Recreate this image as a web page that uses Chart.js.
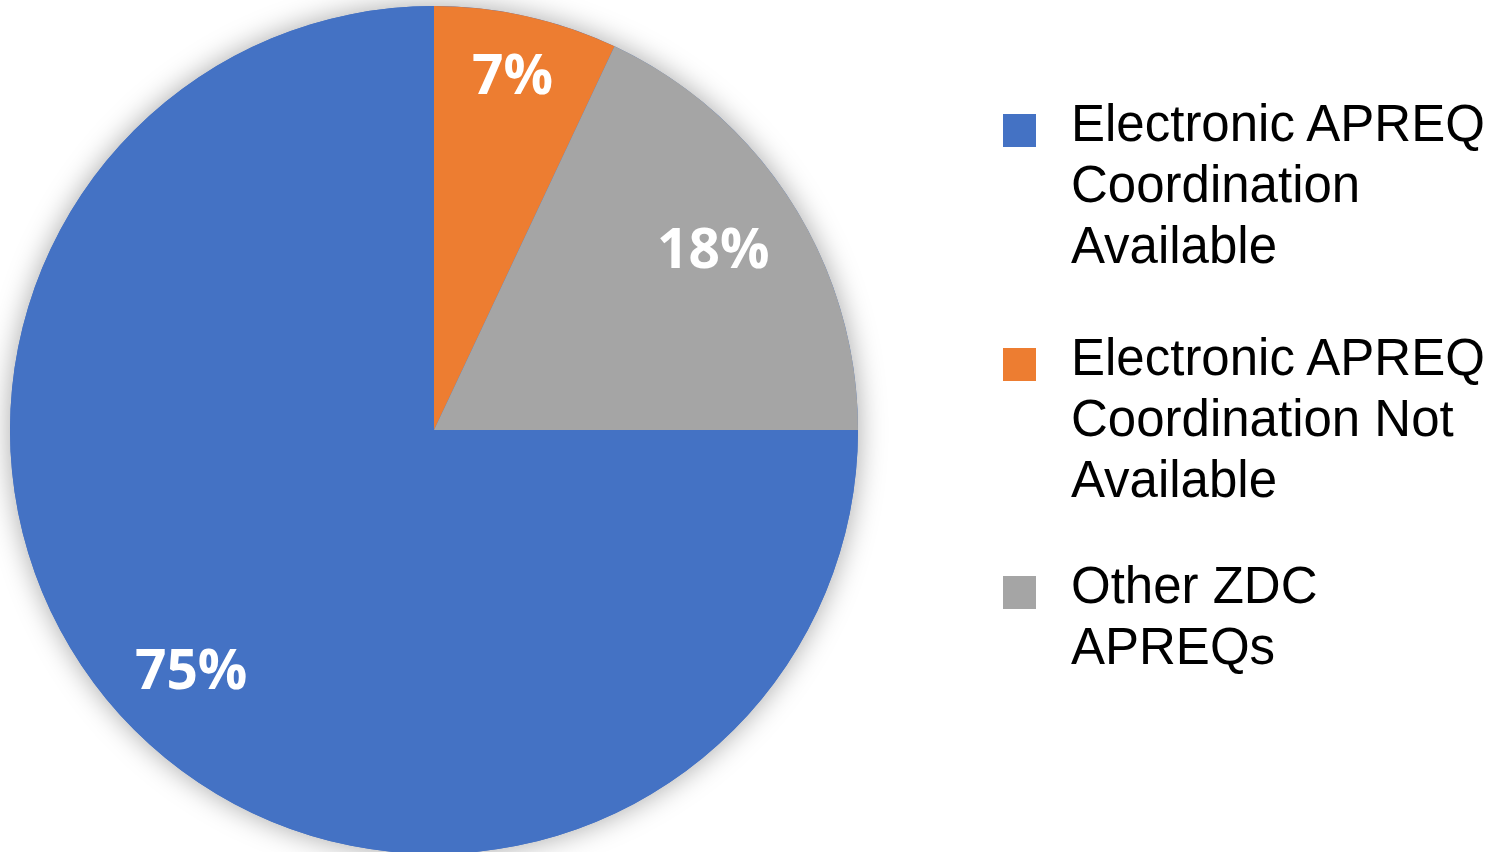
<!DOCTYPE html>
<html>
<head>
<meta charset="utf-8">
<script src="https://cdn.jsdelivr.net/npm/chart.js@4"></script>
<style>
  html, body { margin: 0; padding: 0; background: #fff; overflow: hidden; }
  body { width: 1492px; height: 852px; position: relative; }
  #pie-wrap { position: absolute; left: 0; top: 0; width: 910px; height: 900px; }
  #legend {
    position: absolute; left: 1003px; top: 93px;
    font-family: "Liberation Sans", Arial, sans-serif; font-size: 51px; line-height: 61px; color: #000;
  }
  .item { position: relative; padding-left: 68px; margin-bottom: 51px; white-space: nowrap; }
  .item:nth-child(2) { margin-bottom: 45px; }
  .item .box { position: absolute; left: 0; top: 21px; width: 33px; height: 33px; }
</style>
</head>
<body>
<div id="pie-wrap"><canvas id="pie"></canvas></div>
<div id="legend"></div>

<script>
const categories = [
  ["Electronic APREQ", "Coordination", "Available"],
  ["Electronic APREQ", "Coordination Not", "Available"],
  ["Other ZDC", "APREQs"],
];
const shares = [75, 7, 18];
const colors = ["#4472C4", "#ED7D31", "#A5A5A5"];

// how far out along each slice the percentage sits, as a fraction of the radius
const labelReach = [0.81, 0.85, 0.78];

// legend
const legend = document.getElementById("legend");
categories.forEach((lines, i) => {
  const item = document.createElement("div");
  item.className = "item";
  const box = document.createElement("span");
  box.className = "box";
  box.style.background = colors[i];
  item.appendChild(box);
  lines.forEach((line) => {
    const row = document.createElement("div");
    row.textContent = line;
    item.appendChild(row);
  });
  legend.appendChild(item);
});

// soft drop shadow behind the whole pie
const pieShadow = {
  id: "pieShadow",
  beforeDatasetsDraw(chart) {
    const arc = chart.getDatasetMeta(0).data[0];
    if (!arc) return;
    const ctx = chart.ctx;
    ctx.save();
    ctx.shadowColor = "rgba(0, 0, 0, 0.35)";
    ctx.shadowBlur = 28;
    ctx.fillStyle = colors[0];
    ctx.beginPath();
    ctx.arc(arc.x, arc.y, arc.outerRadius, 0, Math.PI * 2);
    ctx.fill();
    ctx.restore();
  },
};

// white percentage labels inside the slices
const sliceLabels = {
  id: "sliceLabels",
  afterDatasetsDraw(chart) {
    const ctx = chart.ctx;
    const values = chart.data.datasets[0].data;
    ctx.save();
    ctx.fillStyle = "#fff";
    ctx.font = 'bold 55px "Open Sans", sans-serif';
    ctx.textAlign = "center";
    ctx.textBaseline = "middle";
    chart.getDatasetMeta(0).data.forEach((arc, i) => {
      const mid = (arc.startAngle + arc.endAngle) / 2;
      const r = arc.outerRadius * labelReach[i];
      ctx.fillText(values[i] + "%", arc.x + Math.cos(mid) * r, arc.y + Math.sin(mid) * r);
    });
    ctx.restore();
  },
};

new Chart(document.getElementById("pie"), {
  type: "pie",
  data: {
    labels: categories.map((c) => c.join(" ")),
    datasets: [
      {
        data: shares,
        backgroundColor: colors,
        borderWidth: 0,
      },
    ],
  },
  options: {
    responsive: true,
    maintainAspectRatio: false,
    animation: false,
    rotation: 90,
    layout: { padding: { left: 10, right: 52, top: 6, bottom: 46 } },
    plugins: {
      legend: { display: false },
      tooltip: { enabled: false },
    },
  },
  plugins: [pieShadow, sliceLabels],
});
</script>
</body>
</html>
